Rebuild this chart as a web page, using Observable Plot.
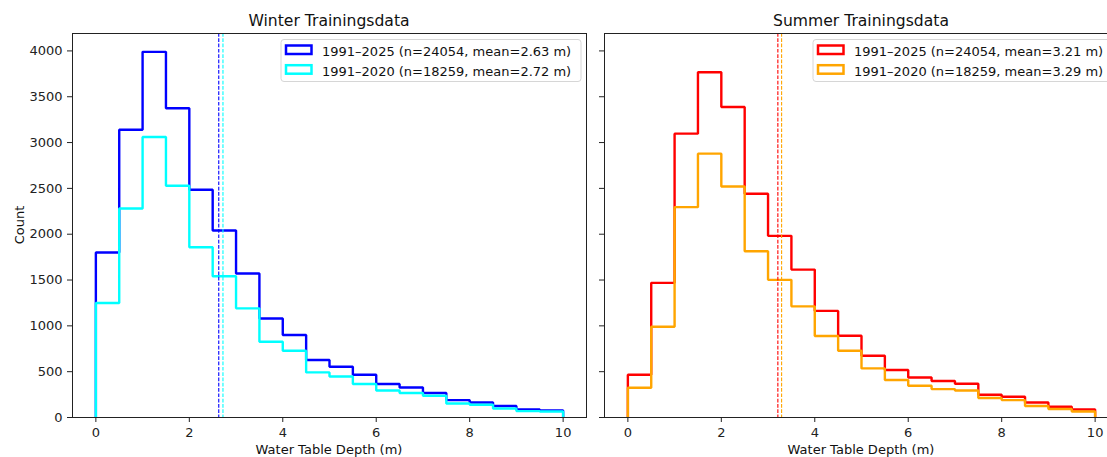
<!DOCTYPE html>
<html><head><meta charset="utf-8">
<script src="https://cdn.jsdelivr.net/npm/d3@7"></script>
<script src="https://cdn.jsdelivr.net/npm/@observablehq/plot@0.6"></script>
<style>
html,body{margin:0;padding:0;background:#fff;overflow:hidden;}
#fig{position:relative;width:1107px;height:457px;overflow:hidden;font-family:"DejaVu Sans",sans-serif;}
#fig > svg{position:absolute;top:0;}
</style></head><body><div id="fig"></div>
<script>
// ---- data ----
const binEdges = [0,0.5,1,1.5,2,2.5,3,3.5,4,4.5,5,5.5,6,6.5,7,7.5,8,8.5,9,9.5,10];
const xTicks = [0,2,4,6,8,10];
const yTicks = [0,500,1000,1500,2000,2500,3000,3500,4000];
const winter2025 = [1800,3140,3990,3375,2485,2040,1572,1080,900,627,554,467,365,328,267,190,164,125,87,77];
const winter2020 = [1250,2281,3060,2529,1858,1541,1191,827,729,492,448,365,295,267,237,153,139,98,70,66];
const summer2025 = [467,1469,3097,3767,3388,2442,1982,1614,1163,892,674,518,437,398,368,248,226,164,117,87];
const summer2020 = [325,991,2295,2879,2521,1814,1502,1213,890,729,536,409,346,310,295,212,190,125,92,66];
const periods = ["1991–2025","1991–2020"];
const sampleSizes = [24054,18259];
const winterMeans = [2.63,2.72];
const summerMeans = [3.21,3.29];
const titles = ["Winter Trainingsdata","Summer Trainingsdata"];
const xLabel = "Water Table Depth (m)";
const yLabel = "Count";

// ---- styling ----
const winterColors = ["#0000ff","#00ffff"];
const summerColors = ["#ff0000","#ffa500"];
const FONT = "DejaVu Sans";
const FRAME_W = 514, MT = 33, MB = 40, H = 457;

function stepPoints(values){
  const last = binEdges.length-1;
  const pts=[{x:binEdges[0],y:0}];
  values.forEach((v,i)=>pts.push({x:binEdges[i],y:v}));
  pts.push({x:binEdges[last],y:values[values.length-1]});
  pts.push({x:binEdges[last],y:0});
  return pts;
}

function panel({series, colors, means, marginLeft, showYLabels}){
  const marks = [];
  series.forEach((s,i)=>marks.push(Plot.line(stepPoints(s),{x:"x",y:"y",curve:"step-after",stroke:colors[i],strokeWidth:2.4,strokeLinejoin:"miter",strokeLinecap:"butt"})));
  means.forEach((m,i)=>marks.push(Plot.ruleX([m],{stroke:colors[i],strokeWidth:1.1,strokeDasharray:"3.7,1.6"})));
  marks.push(Plot.frame({stroke:"#222",strokeWidth:1}));
  marks.push(Plot.axisX({ticks:xTicks,tickSize:5,tickPadding:5,label:null,fontSize:13}));
  marks.push(Plot.axisY({ticks:yTicks,tickSize:5,tickPadding:5,label:null,fontSize:13,
    tickFormat: showYLabels ? (d=>String(d)) : (()=>"")}));
  return Plot.plot({
    width: marginLeft+FRAME_W+8, height:H, marginLeft, marginRight:8, marginTop:MT, marginBottom:MB,
    x:{domain:[-0.5,10.5]}, y:{domain:[0,4190]},
    style:{fontFamily:FONT,fontSize:"13px",color:"#222",background:"transparent",overflow:"visible"},
    marks
  });
}

const fig = document.getElementById("fig");
const p1 = panel({series:[winter2025,winter2020],colors:winterColors,means:winterMeans,marginLeft:72,showYLabels:true});
p1.style.left = "0px";
fig.appendChild(p1);
const p2 = panel({series:[summer2025,summer2020],colors:summerColors,means:summerMeans,marginLeft:10,showYLabels:false});
p2.style.left = "594px";
fig.appendChild(p2);

// ---- overlay: titles, labels, legends ----
const ov = d3.create("svg").attr("width",1130).attr("height",H)
  .style("left","0px").style("font-family",FONT).style("pointer-events","none");
const centers = [72+FRAME_W/2, 604+FRAME_W/2];
titles.forEach((t,i)=>ov.append("text").attr("x",centers[i]).attr("y",25.5)
  .attr("text-anchor","middle").attr("font-size",15.6).attr("fill","#111").text(t));
centers.forEach(c=>ov.append("text").attr("x",c).attr("y",453.5)
  .attr("text-anchor","middle").attr("font-size",13).attr("fill","#111").text(xLabel));
ov.append("text").attr("transform","translate(24,225) rotate(-90)")
  .attr("text-anchor","middle").attr("font-size",13).attr("fill","#111").text(yLabel);

function legend(x0, colors, means){
  const g = ov.append("g").attr("transform",`translate(${x0},39.5)`);
  g.append("rect").attr("x",0).attr("y",0).attr("width",300).attr("height",42).attr("rx",3)
    .attr("fill","rgba(255,255,255,0.8)").attr("stroke","#d6d6d6").attr("stroke-width",1);
  periods.forEach((p,i)=>{
    const yy = 6 + i*19.7;
    g.append("rect").attr("x",5).attr("y",yy).attr("width",25.5).attr("height",8.5)
      .attr("fill","none").attr("stroke",colors[i]).attr("stroke-width",2.5);
    g.append("text").attr("x",41).attr("y",16.5+i*19.6).attr("font-size",13).attr("fill","#111")
      .text(`${p} (n=${sampleSizes[i]}, mean=${means[i].toFixed(2)} m)`);
  });
}
legend(281, winterColors, winterMeans);
legend(813, summerColors, summerMeans);
fig.appendChild(ov.node());
</script></body></html>
